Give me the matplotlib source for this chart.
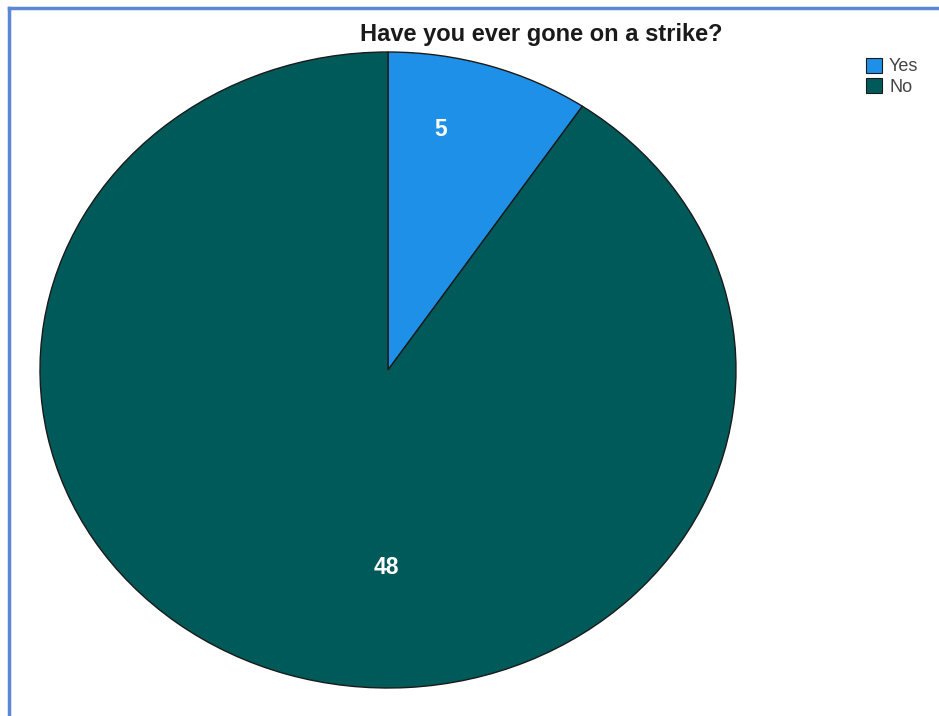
import matplotlib.pyplot as plt
from matplotlib.patches import Patch
from matplotlib.lines import Line2D

plt.rcParams['font.family'] = ['Liberation Sans', 'DejaVu Sans']

labels = ['Yes', 'No']
counts = [5, 48]
colors = ['#1e90e8', '#005a5a']

fig = plt.figure(figsize=(9.39, 7.16), dpi=100)
ax = fig.add_axes([40 / 939, 28 / 716, 696 / 939, 636 / 716])

wedges, _ = ax.pie(counts, colors=colors, startangle=90, counterclock=False,
                   wedgeprops=dict(edgecolor='#1a1a1a', linewidth=1.0))
ax.set_aspect('auto')
ax.set_xlim(-1.0, 1.0)
ax.set_ylim(-1.0, 1.0)

# count labels
ax.text(0.15, 0.755, str(counts[0]), color='white', fontsize=16.5, fontweight='bold',
        ha='center', va='center')
ax.text(-0.005, -0.62, str(counts[1]), color='white', fontsize=16.5, fontweight='bold',
        ha='center', va='center')

fig.text(541 / 939, 1 - 35 / 716, 'Have you ever gone on a strike?', fontsize=17,
         fontweight='bold', color='#1a1a1a', ha='center', va='center')

handles = [Patch(facecolor=c, edgecolor='#1a1a1a', linewidth=0.8) for c in colors]
leg = fig.legend(handles, labels, loc='upper left', bbox_to_anchor=(853 / 939, 1 - 45 / 716),
                 frameon=False, fontsize=13, handlelength=0.9, handleheight=0.9,
                 handletextpad=0.4, labelspacing=0.15, borderpad=0.2)
for t in leg.get_texts():
    t.set_color('#444444')

# frame lines on the left and top
fig.add_artist(Line2D([8.5 / 939, 8.5 / 939], [0, 1 - 7.5 / 716], color='#5b87d4', linewidth=2.5,
                      transform=fig.transFigure))
fig.add_artist(Line2D([8.5 / 939, 1], [1 - 7.5 / 716, 1 - 7.5 / 716], color='#5b87d4', linewidth=2.5,
                      transform=fig.transFigure))

fig.savefig('out.png', dpi=100)
